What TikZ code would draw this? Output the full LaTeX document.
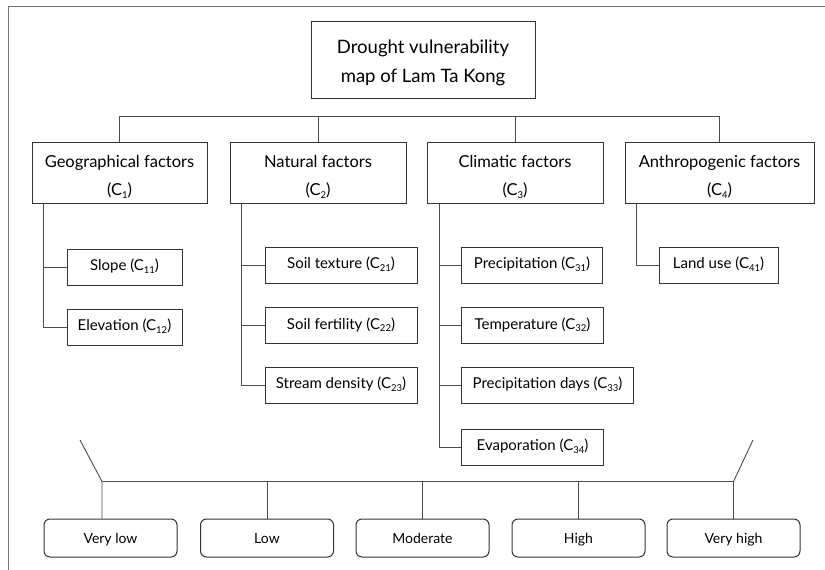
\documentclass[tikz,border=0pt]{standalone}
\usepackage{fontspec}
\setmainfont{Lato}
\newcommand{\lsub}[1]{\raisebox{-2.6pt}{\fontsize{9.5}{10}\selectfont #1}}
\begin{document}
\begin{tikzpicture}[x=1pt,y=-1pt,
  box/.style={draw=black!80,line width=1pt,inner sep=0pt},
  txt/.style={inner sep=0pt,align=center,font=\fontsize{16.5}{28}\selectfont},
  sub/.style={draw=black!80,line width=1pt,inner sep=0pt,minimum height=36pt,text height=11pt,text depth=4pt,font=\fontsize{15}{17}\selectfont},
  lvl/.style={draw=black!80,line width=1pt,inner sep=0pt,minimum height=38pt,minimum width=133pt,rounded corners=6pt},
  lvltxt/.style={inner sep=0pt,text height=10pt,text depth=3pt,font=\fontsize{14}{16}\selectfont},
  con/.style={draw=black!70,line width=0.9pt}]
\useasboundingbox (0,0) rectangle (825,570);
\draw[black!55,line width=1pt] (825,6) -- (8,6) -- (8,570);
% title
\node[box,minimum width=224pt,minimum height=77pt] (title) at (423,59.5) {};
\node[txt,font=\fontsize{18.5}{29}\selectfont] (titlet) at (423,63) {Drought vulnerability\\map of Lam Ta Kong};
% factors
\node[box,minimum width=175pt,minimum height=61pt] (geo) at (119.5,172.5) {};
\node[box,minimum width=176pt,minimum height=61pt] (nat) at (318,172.5) {};
\node[box,minimum width=176pt,minimum height=61pt] (cli) at (515,172.5) {};
\node[box,minimum width=189pt,minimum height=61pt] (ant) at (719.5,172.5) {};
\node[txt] (geot) at (119.5,177) {Geographical factors\\(C\lsub{1})};
\node[txt] (natt) at (318,177) {Natural factors\\(C\lsub{2})};
\node[txt] (clit) at (515,177) {Climatic factors\\(C\lsub{3})};
\node[txt] (antt) at (719.5,177) {Anthropogenic factors\\(C\lsub{4})};
\draw[con] (geo.north) -- ++(0,-25) coordinate (busl) -| (ant.north);
\draw[con] (nat.north) -- (nat.north |- busl);
\draw[con] (cli.north) -- (cli.north |- busl);
% geographical subitems
\node[sub,minimum width=115pt] (slope) at (124.5,267) {Slope (C\lsub{11})};
\node[sub,minimum width=115pt] (elev) at (124.5,327) {Elevation (C\lsub{12})};
\coordinate (gt) at ([xshift=12pt]geo.south west);
\draw[con] (gt) |- (elev.west);
\draw[con] (slope.west) -- (slope.west -| gt);
% natural subitems
\node[sub,minimum width=152pt] (soilt) at (341,265) {Soil texture (C\lsub{21})};
\node[sub,minimum width=152pt] (soilf) at (341,325.5) {Soil fertility (C\lsub{22})};
\node[sub,minimum width=152pt] (stream) at (341,385) {Stream density (C\lsub{23})};
\coordinate (nt) at ([xshift=12pt]nat.south west);
\draw[con] (nt) |- (stream.west);
\draw[con] (soilt.west) -- (soilt.west -| nt);
\draw[con] (soilf.west) -- (soilf.west -| nt);
% climatic subitems
\node[sub,minimum width=141pt,anchor=west] (prec) at (461,265) {Precipitation (C\lsub{31})};
\node[sub,minimum width=142pt,anchor=west] (temp) at (461,325.5) {Temperature (C\lsub{32})};
\node[sub,minimum width=172pt,anchor=west] (pdays) at (461,385) {Precipitation days (C\lsub{33})};
\node[sub,minimum width=142pt,anchor=west] (evap) at (461,447) {Evaporation (C\lsub{34})};
\coordinate (ct) at ([xshift=13pt]cli.south west);
\draw[con] (ct) |- (evap.west);
\draw[con] (prec.west) -- (prec.west -| ct);
\draw[con] (temp.west) -- (temp.west -| ct);
\draw[con] (pdays.west) -- (pdays.west -| ct);
% anthropogenic subitem
\node[sub,minimum width=119pt] (land) at (718.5,265) {Land use (C\lsub{41})};
\coordinate (at) at ([xshift=12pt]ant.south west);
\draw[con] (at) |- (land.west);
% levels
\node[lvl] (vl) at (110.5,538) {};
\node[lvl] (lo) at (267,538) {};
\node[lvl] (mo) at (422.5,538) {};
\node[lvl] (hi) at (578.5,538) {};
\node[lvl] (vh) at (733.5,538) {};
\node[lvltxt] (vlt) at (110.5,540) {Very low};
\node[lvltxt] (lot) at (267,540) {Low};
\node[lvltxt] (mot) at (422.5,540) {Moderate};
\node[lvltxt] (hit) at (578.5,540) {High};
\node[lvltxt] (vht) at (733.5,540) {Very high};
\coordinate (dl) at (80,440);
\coordinate (dr) at (753,440);
\draw[con] (dl) -- ([xshift=-8.5pt,yshift=37pt]vl.north) coordinate (bl) -- ([xshift=-8.5pt]vl.north);
\draw[con] (bl) -- (bl -| vh.north) coordinate (br) -- (vh.north);
\draw[con] (br) -- (dr);
\draw[con] (lo.north) -- (lo.north |- bl);
\draw[con] (mo.north) -- (mo.north |- bl);
\draw[con] (hi.north) -- (hi.north |- bl);
\end{tikzpicture}
\end{document}
